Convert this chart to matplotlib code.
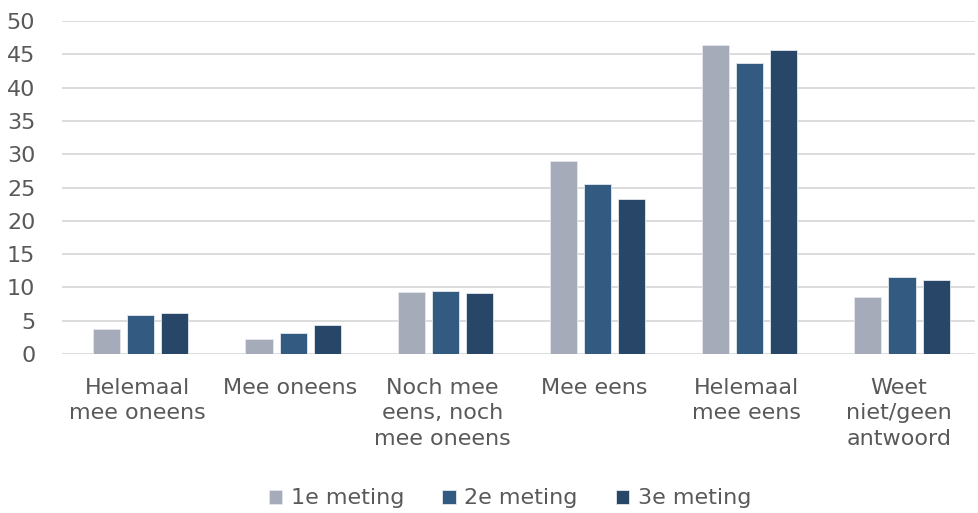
import matplotlib
matplotlib.use('Agg')
import matplotlib.pyplot as plt
import numpy as np

categories = ["Helemaal\nmee oneens", "Mee oneens", "Noch mee\neens, noch\nmee oneens",
              "Mee eens", "Helemaal\nmee eens", "Weet\nniet/geen\nantwoord"]
meting_1 = [3.8, 2.3, 9.3, 29.0, 46.4, 8.6]
meting_2 = [5.9, 3.2, 9.5, 25.6, 43.7, 11.6]
meting_3 = [6.2, 4.4, 9.1, 23.2, 45.7, 11.1]
series_labels = ["1e meting", "2e meting", "3e meting"]
y_ticks = [0, 5, 10, 15, 20, 25, 30, 35, 40, 45, 50]

colors = ['#A5ABB9', '#335A80', '#284667']
text_color = '#595959'

plt.rcParams['font.family'] = 'DejaVu Sans'

fig = plt.figure(figsize=(9.79, 5.13), dpi=100)
ax = fig.add_axes([0.063, 0.31, 0.933, 0.649])

x = np.arange(len(categories))
width = 0.178
step = 0.224
for i, (vals, lab) in enumerate(zip([meting_1, meting_2, meting_3], series_labels)):
    ax.bar(x + (i - 1) * step + 0.02, vals, width, color=colors[i], label=lab,
           edgecolor='#E4E8EE', linewidth=0.6, zorder=3)

ax.set_xlim(-0.5, len(categories) - 0.5)
ax.set_ylim(0, 50)
ax.set_yticks(y_ticks)
ax.yaxis.grid(True, color='#D9D9D9', linewidth=1.3, zorder=0)
ax.set_axisbelow(True)
for s in ax.spines.values():
    s.set_visible(False)
ax.tick_params(axis='both', length=0, labelsize=16, colors=text_color)
ax.tick_params(axis='x', pad=17)
ax.tick_params(axis='y', pad=19)
ax.set_xticks(x)
ax.set_xticklabels(categories, linespacing=1.35)

leg = fig.legend(loc='lower center', bbox_to_anchor=(0.521, -0.03), ncol=3, frameon=False,
                 fontsize=16, handlelength=0.6, handleheight=0.6, handletextpad=0.4,
                 columnspacing=1.7)
for t in leg.get_texts():
    t.set_color(text_color)

fig.savefig('out.png', dpi=100)
